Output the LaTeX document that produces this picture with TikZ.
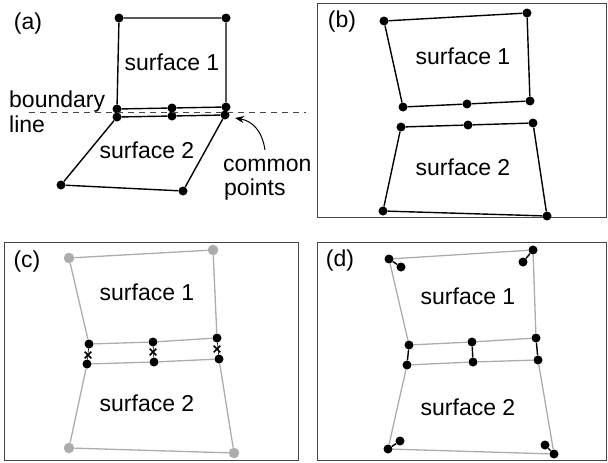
\documentclass[tikz,border=0pt]{standalone}
\usepackage{fontspec}
\setmainfont{Liberation Sans}
\usetikzlibrary{shapes.misc,arrows.meta}
\definecolor{lgray}{RGB}{172,172,172}
\definecolor{fgray}{RGB}{70,70,70}
\tikzset{
  dot/.style={circle,fill=black,inner sep=0pt,minimum size=9pt},
  gdot/.style={circle,fill=lgray,inner sep=0pt,minimum size=10.5pt},
  blk/.style={line width=1.4pt,black,line join=round},
  gry/.style={line width=1.3pt,lgray,line join=round},
  lbl/.style={font=\fontsize{23}{25}\selectfont,inner sep=0pt,anchor=base},
  plbl/.style={font=\fontsize{23}{25}\selectfont,inner sep=0pt},
  frame/.style={draw=fgray,line width=0.9pt},
  xmark/.style={cross out,draw=black,line width=1.6pt,inner sep=0pt,minimum size=5pt},
}
\begin{document}
\begin{tikzpicture}[x=1pt,y=-1pt]
\useasboundingbox (0,0) rectangle (608,463);
% ---------- panel (a)
\node[plbl] (la) at (28,24) {(a)};
\node[dot] (a1) at (119,18) {};
\node[dot] (a2) at (226,18) {};
\node[dot] (a3) at (226,107) {};
\node[dot] (a4) at (172,108) {};
\node[dot] (a5) at (117,109) {};
\node[dot] (b1) at (117,117) {};
\node[dot] (b2) at (172,116) {};
\node[dot] (b3) at (225,115) {};
\node[dot] (b4) at (183,191) {};
\node[dot] (b5) at (61,185) {};
\draw[blk] (a1) -- (a2) -- (a3) -- (a4) -- (a5) -- (a1);
\draw[blk] (b1) -- (b2) -- (b3) -- (b4) -- (b5) -- (b1);
\coordinate (dl) at (29,112);
\coordinate (dr) at (306,112);
\draw[fgray,line width=0.9pt,dash pattern=on 6pt off 5pt] (dl) -- (dr);
\node[lbl] (s1a) at (172,70) {surface 1};
\node[lbl] (s2a) at (147,158) {surface 2};
\node[lbl,anchor=base west] (bd) at (9,107) {boundary};
\node[lbl,anchor=base west] (ln) at (9,132) {line};
\node[lbl,anchor=base west] (cm) at (223,171) {common};
\node[lbl,anchor=base west] (pt) at (224,195) {points};
\coordinate (arS) at (265,150);
\coordinate (arE) at (235,118);
\draw[black,line width=1pt,-{Stealth[length=9pt,width=7pt]}] (arS) .. controls (262,130) and (252,121) .. (arE);
% ---------- panel (b)
\draw[frame] (317,3) rectangle (606,217);
\node[plbl] (lb) at (342,22) {(b)};
\node[dot] (c1) at (384,21) {};
\node[dot] (c2) at (527,13) {};
\node[dot] (c3) at (530,101) {};
\node[dot] (c4) at (467,104) {};
\node[dot] (c5) at (403,107) {};
\node[dot] (d1) at (401,127) {};
\node[dot] (d2) at (468,125) {};
\node[dot] (d3) at (533,123) {};
\node[dot] (d4) at (547,216) {};
\node[dot] (d5) at (383,211) {};
\draw[blk] (c1) -- (c2) -- (c3) -- (c4) -- (c5) -- (c1);
\draw[blk] (d1) -- (d2) -- (d3) -- (d4) -- (d5) -- (d1);
\node[lbl] (s1b) at (463,64) {surface 1};
\node[lbl] (s2b) at (463,175) {surface 2};
% ---------- panel (c)
\draw[frame] (4,242) rectangle (298,460);
\node[plbl] (lc) at (27,262) {(c)};
\node[gdot] (e1) at (69,258) {};
\node[gdot] (e2) at (213,250) {};
\node[dot] (e3) at (217,338) {};
\node[dot] (e4) at (153,342) {};
\node[dot] (e5) at (89,344) {};
\node[dot] (f1) at (87,364) {};
\node[dot] (f2) at (154,362) {};
\node[dot] (f3) at (219,359) {};
\node[gdot] (f4) at (234,453) {};
\node[gdot] (f5) at (69,448) {};
\draw[gry] (e1) -- (e2) -- (e3) -- (e4) -- (e5) -- (e1);
\draw[gry] (f1) -- (f2) -- (f3) -- (f4) -- (f5) -- (f1);
\draw[black,line width=0.6pt] (e5) -- (f1) (e4) -- (f2) (e3) -- (f3);
\node[xmark] (x1) at (88,355) {};
\node[xmark] (x2) at (153,352) {};
\node[xmark] (x3) at (217,349) {};
\node[lbl] (s1c) at (147,300) {surface 1};
\node[lbl] (s2c) at (147,411) {surface 2};
% ---------- panel (d)
\draw[frame] (317,242) rectangle (606,460);
\node[plbl] (ld) at (340,261) {(d)};
\node[dot] (g1) at (389,259) {};
\node[dot] (g2) at (533,250) {};
\node[dot] (g3) at (536,338) {};
\node[dot] (g4) at (472,342) {};
\node[dot] (g5) at (409,345) {};
\node[dot] (h1) at (407,365) {};
\node[dot] (h2) at (473,362) {};
\node[dot] (h3) at (538,360) {};
\node[dot] (h4) at (554,454) {};
\node[dot] (h5) at (388,449) {};
\node[dot] (i1) at (401,267) {};
\node[dot] (i2) at (523,262) {};
\node[dot] (i4) at (545,445) {};
\node[dot] (i5) at (400,441) {};
\draw[gry] (g1) -- (g2) -- (g3) -- (g4) -- (g5) -- (g1);
\draw[gry] (h1) -- (h2) -- (h3) -- (h4) -- (h5) -- (h1);
\draw[blk] (g5) -- (h1) (g4) -- (h2) (g3) -- (h3);
\draw[blk] (g1) -- (i1) (g2) -- (i2) (h4) -- (i4) (h5) -- (i5);
\node[lbl] (s1d) at (468,304) {surface 1};
\node[lbl] (s2d) at (468,415) {surface 2};
\end{tikzpicture}
\end{document}
